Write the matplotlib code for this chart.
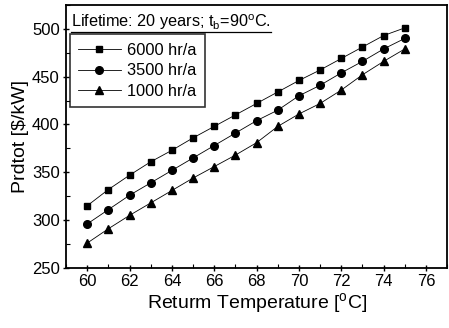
import matplotlib
matplotlib.use("Agg")
import matplotlib.pyplot as plt
from matplotlib.ticker import MultipleLocator

plt.rcParams['font.family'] = ['Liberation Sans', 'DejaVu Sans']
plt.rcParams['mathtext.fontset'] = 'custom'
plt.rcParams['mathtext.rm'] = 'Liberation Sans'
plt.rcParams['mathtext.it'] = 'Liberation Sans'

temp = [60, 61, 62, 63, 64, 65, 66, 67, 68, 69, 70, 71, 72, 73, 74, 75]
p6000 = [315, 332, 347, 361, 373, 386, 398, 410, 422, 434, 446, 457, 469, 481, 493, 501]
p3500 = [296, 311, 326, 339, 352, 365, 378, 391, 404, 415, 430, 441, 454, 466, 479, 490]
p1000 = [276, 291, 305, 318, 331, 344, 356, 368, 381, 398, 411, 422, 436, 452, 466, 479]

fig = plt.figure(figsize=(4.49, 3.28), dpi=100)
ax = fig.add_axes([0.147, 0.183, 0.849, 0.802])

ax.plot(temp, p6000, marker='s', ms=5, color='black', lw=0.6, label='6000 hr/a')
ax.plot(temp, p3500, marker='o', ms=5.5, color='black', lw=0.6, label='3500 hr/a')
ax.plot(temp, p1000, marker='^', ms=6, color='black', lw=0.6, label='1000 hr/a')

ax.set_xlim(59, 77)
ax.set_ylim(250, 525)
ax.xaxis.set_major_locator(MultipleLocator(2))
ax.xaxis.set_minor_locator(MultipleLocator(1))
ax.yaxis.set_major_locator(MultipleLocator(50))
ax.yaxis.set_minor_locator(MultipleLocator(25))
ax.tick_params(which='major', direction='inout', length=5, width=1, labelsize=12, pad=2)
ax.tick_params(which='minor', direction='in', length=3, width=0.8)
for s in ax.spines.values():
    s.set_linewidth(1.3)

ax.set_xlabel('Returm Temperature [$^\\mathrm{o}$C]', fontsize=14, labelpad=1)
ax.set_ylabel('Prdtot [$/kW]', fontsize=14, labelpad=2)

title = ax.text(0.012, 0.97, 'Lifetime: 20 years; t$_\\mathrm{b}$=90$^\\mathrm{o}$C.',
                transform=ax.transAxes, fontsize=11.7, va='top', ha='left')

leg = ax.legend(loc='upper left', bbox_to_anchor=(0.01, 0.888), fontsize=11.8,
                frameon=True, fancybox=False, edgecolor='black', handlelength=2.6,
                borderpad=0.5, labelspacing=0.35, handletextpad=0.4, borderaxespad=0)
leg.get_frame().set_linewidth(1.2)

# underline the title text
fig.canvas.draw()
bb = title.get_window_extent().transformed(ax.transAxes.inverted())
ax.plot([bb.x0, bb.x1], [bb.y0 + 0.003, bb.y0 + 0.003], color='black', lw=0.9,
        transform=ax.transAxes, clip_on=False)

fig.savefig('out.png', dpi=100)
